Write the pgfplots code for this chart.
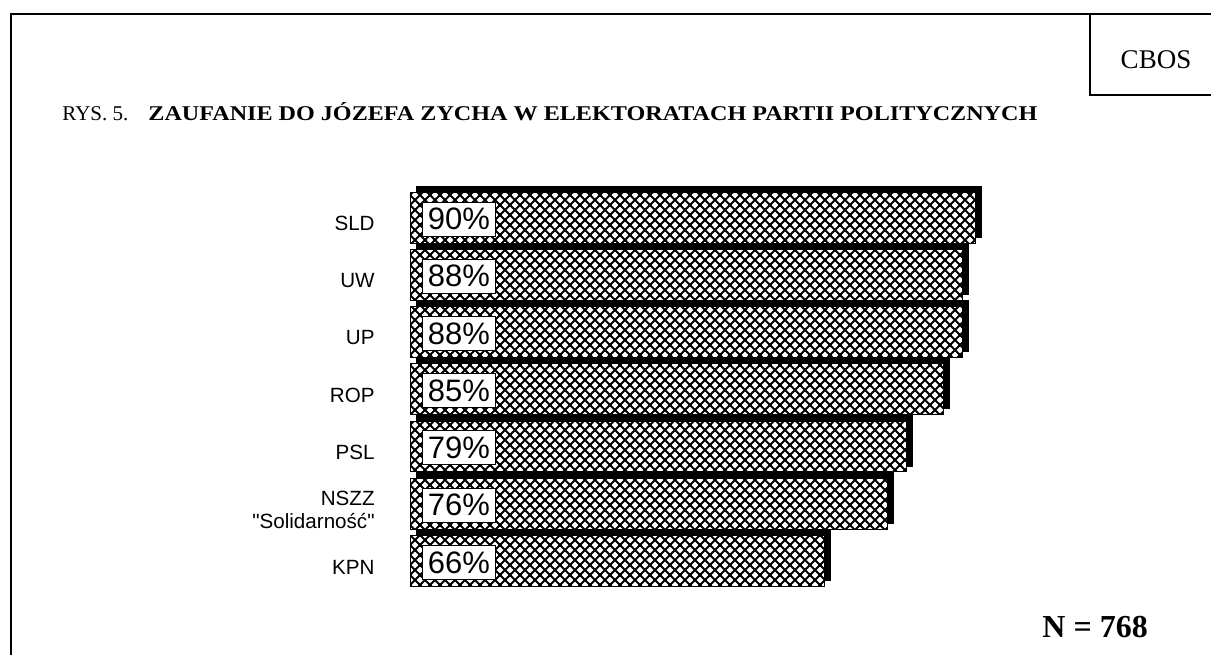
\documentclass[border=0pt]{standalone}
\usepackage{fontspec}
\setmainfont{Liberation Serif}
\newfontfamily\arial{Liberation Sans}
\usepackage{pgfplots}
\pgfplotsset{compat=1.18}
\usepackage{pgfplotstable}
\usetikzlibrary{patterns}

\pgfdeclarepatternformonly{diagcross}{\pgfqpoint{-1pt}{-1pt}}{\pgfqpoint{6pt}{6pt}}{\pgfqpoint{5pt}{5pt}}{%
  \pgfsetlinewidth{1pt}%
  \pgfpathmoveto{\pgfqpoint{-0.5pt}{-0.5pt}}\pgfpathlineto{\pgfqpoint{5.5pt}{5.5pt}}%
  \pgfpathmoveto{\pgfqpoint{-0.5pt}{5.5pt}}\pgfpathlineto{\pgfqpoint{5.5pt}{-0.5pt}}%
  \pgfusepath{stroke}}

\pgfplotstableread{
pos value
6 90
5 88
4 88
3 85
2 79
1 76
0 66
}\datatable

\begin{document}
\begin{tikzpicture}
\useasboundingbox (0,0) rectangle (605.5pt,327.5pt);
% frame
\draw[line width=1pt] (5.5pt,0pt) -- (5.5pt,320.5pt) -- (605.5pt,320.5pt);
\draw[line width=1pt] (545pt,320.5pt) -- (545pt,280pt) -- (605.5pt,280pt);
\node[font=\fontsize{13.5}{15}\selectfont, inner sep=0pt] at (578pt,297.5pt) {CBOS};
\node[anchor=base west, inner sep=0pt, font=\fontsize{10.5}{12}\selectfont] at (31pt,267pt) {RYS. 5.};
\node[anchor=base west, inner sep=0pt, font=\fontsize{10.5}{12}\selectfont] at (74pt,267pt)
  {\resizebox{444.5pt}{\height}{\textbf{ZAUFANIE DO JÓZEFA ZYCHA W ELEKTORATACH PARTII POLITYCZNYCH}}};
\node[anchor=base west, inner sep=0pt, font=\fontsize{16}{18}\selectfont\bfseries] at (521pt,9pt) {N = 768};
\begin{axis}[
  at={(205pt,32.7pt)}, anchor=south west,
  width=314pt, height=200.35pt, scale only axis,
  xmin=0, xmax=100, ymin=-0.5, ymax=6.5,
  axis line style={draw=none}, major tick length=0pt,
  xtick=\empty, ytick={0,...,6},
  yticklabels={KPN,{NSZZ\ \\"Solidarność"},PSL,ROP,UP,UW,SLD},
  yticklabel style={font=\arial\fontsize{10.3}{11.5}\selectfont, align=right, inner sep=0pt, xshift=-17.5pt, yshift=-3pt},
  clip=false,
]
\addplot[xbar, bar shift=0pt, bar width=0.89, fill=black, draw=black, xshift=3pt, yshift=3pt] table[x=value,y=pos]{\datatable};
\addplot[xbar, bar shift=0pt, bar width=0.89, fill=white, draw=none] table[x=value,y=pos]{\datatable};
\addplot[xbar, bar shift=0pt, bar width=0.89, pattern=diagcross, draw=black, line width=0.5pt] table[x=value,y=pos]{\datatable};
\addplot[draw=none, mark=none, nodes near coords={\pgfmathprintnumber{\pgfplotspointmeta}\%}, point meta=explicit,
  every node near coord/.style={anchor=west, xshift=6pt, yshift=-0.75pt, fill=white, draw=black, line width=0.5pt, text=black,
  font=\arial\fontsize{15.5}{17}\selectfont, minimum width=36.5pt, minimum height=17pt, inner sep=0.6pt, align=right,
  /pgf/number format/assume math mode=true}]
  table[x expr=0, y=pos, meta=value]{\datatable};
\end{axis}
\end{tikzpicture}
\end{document}
